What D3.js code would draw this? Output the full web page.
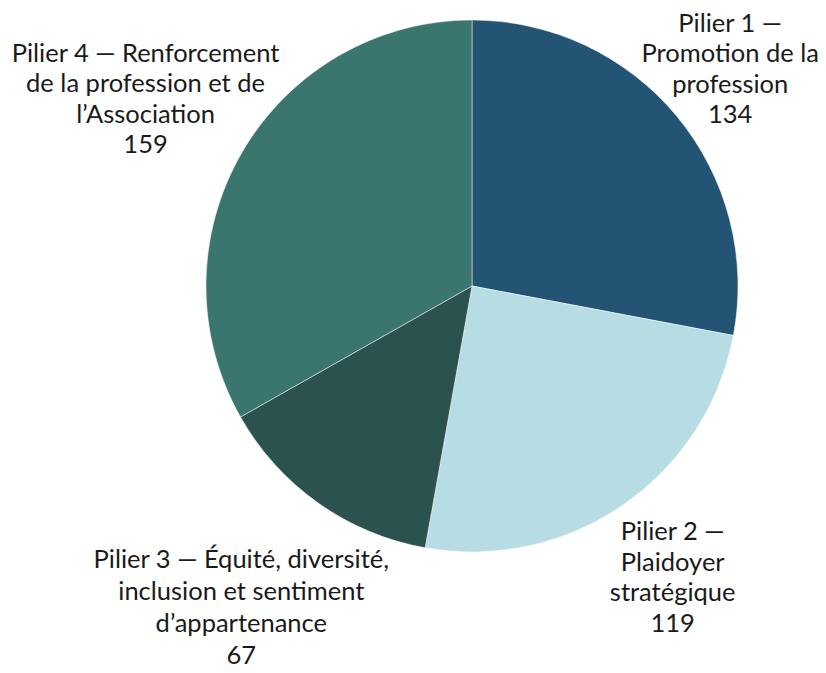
<!DOCTYPE html>
<html>
<head>
<meta charset="utf-8">
<script src="https://cdn.jsdelivr.net/npm/d3@7"></script>
<style>
  body { margin: 0; background: #fff; }
  text { font-family: Lato, "Open Sans", sans-serif; fill: #1a1a1a; }
</style>
</head>
<body>
<div id="chart"></div>
<script>
var categories = ["Pilier 1", "Pilier 2", "Pilier 3", "Pilier 4"];
var labelLines = [
  ["Pilier 1 \u2014", "Promotion de la", "profession"],
  ["Pilier 2 \u2014", "Plaidoyer", "strat\u00e9gique"],
  ["Pilier 3 \u2014 \u00c9quit\u00e9, diversit\u00e9,", "inclusion et sentiment", "d\u2019appartenance"],
  ["Pilier 4 \u2014 Renforcement", "de la profession et de", "l\u2019Association"]
];
var values = [134, 119, 67, 159];
var colors = ["#245474", "#b8dce4", "#2c524f", "#3a766e"];

var width = 826, height = 673;
var cx = 472, cy = 286, radius = 266;
// label placement: distance from centre and small angle nudge (degrees)
var labelDist = [332, 361, 403, 372];
var labelNudge = [0.7, 0.8, -0.4, -1.6];
var lineH = [30.5, 30.5, 32, 30.5];

var svg = d3.select("#chart").append("svg")
  .attr("width", width)
  .attr("height", height);

var pie = d3.pie().sort(null).value(function(d) { return d; });
var arcs = pie(values);

var arc = d3.arc().innerRadius(0).outerRadius(radius);

var g = svg.append("g").attr("transform", "translate(" + cx + "," + cy + ")");

g.selectAll("path")
  .data(arcs)
  .enter().append("path")
  .attr("d", arc)
  .attr("fill", function(d, i) { return colors[i]; })
  .attr("stroke", "#ffffff")
  .attr("stroke-opacity", 0.6)
  .attr("stroke-width", 0.8);

var labels = g.selectAll("text.lbl")
  .data(arcs)
  .enter().append("text")
  .attr("class", "lbl")
  .attr("text-anchor", "middle")
  .style("font-size", "25.5px")
  .attr("transform", function(d, i) {
    var a = (d.startAngle + d.endAngle) / 2 + labelNudge[i] * Math.PI / 180;
    var x = Math.sin(a) * labelDist[i];
    var y = -Math.cos(a) * labelDist[i];
    return "translate(" + x + "," + y + ")";
  });

labels.each(function(d, i) {
  var t = d3.select(this);
  var lines = labelLines[i].concat([String(values[i])]);
  lines.forEach(function(s, k) {
    t.append("tspan")
      .attr("x", 0)
      .attr("y", (k - (lines.length - 1) / 2) * lineH[i])
      .text(s);
  });
});
</script>
</body>
</html>
